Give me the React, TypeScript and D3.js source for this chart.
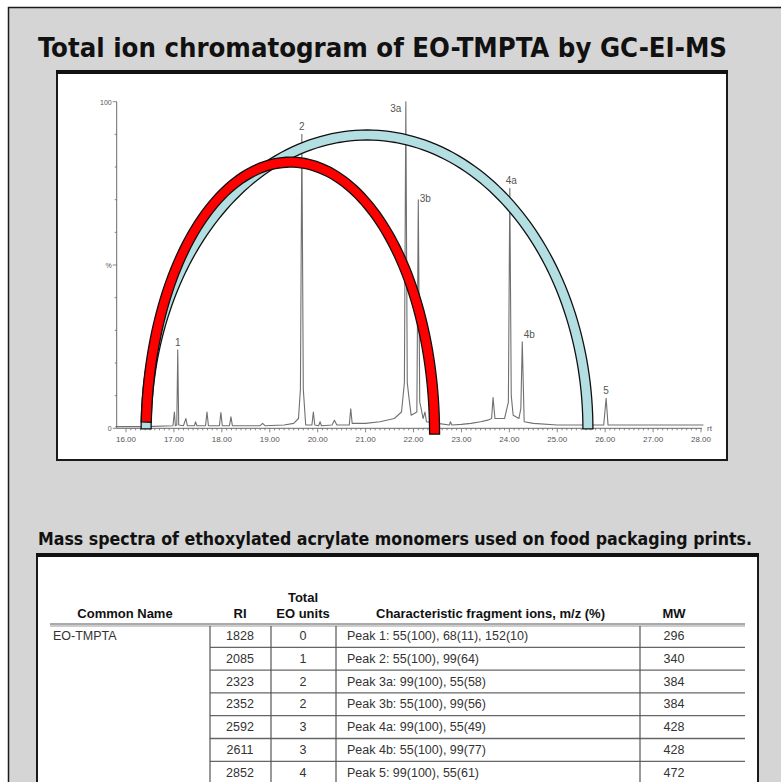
import { useEffect, useRef } from "react";
import * as d3 from "d3";

const W = 781;
const H = 782;

// chromatogram trace: retention time (min) / abundance (%)
const traceRt = [
  15.78, 16.4, 16.98, 17.01, 17.03, 17.06, 17.08, 17.1, 17.2, 17.25, 17.28, 17.43,
  17.45, 17.48, 17.66, 17.69, 17.72, 17.95, 17.98, 18.01, 18.16, 18.19, 18.22, 18.8,
  18.85, 18.9, 19.3, 19.5, 19.6, 19.64, 19.67, 19.7, 19.75, 19.88, 19.91, 19.94,
  20.02, 20.05, 20.08, 20.3, 20.35, 20.4, 20.66, 20.69, 20.72, 21.0, 21.3, 21.6,
  21.75, 21.81, 21.84, 21.87, 21.9, 21.95, 22.07, 22.1, 22.13, 22.16, 22.2, 22.24,
  22.27, 22.5, 22.75, 22.77, 22.8, 23.0, 23.2, 23.4, 23.55, 23.63, 23.66, 23.7,
  23.9, 23.98, 24.01, 24.04, 24.08, 24.2, 24.24, 24.27, 24.31, 24.5, 25.0, 25.97,
  26.02, 26.06, 26.5, 28.05,
];
const tracePct = [
  0.5, 0.5, 0.8, 5, 0.8, 1, 24, 1, 0.8, 3, 0.8, 0.8,
  2, 0.8, 0.8, 5, 0.8, 0.8, 4.8, 0.8, 0.8, 3.5, 0.8, 0.8,
  1.5, 0.8, 1, 1.5, 3, 12, 90, 12, 1, 1, 5, 1,
  0.8, 2, 0.8, 1, 2.5, 1, 1, 6, 1.5, 1.5, 2, 3,
  5, 14, 100, 14, 10, 4, 5, 70, 8, 6, 3, 5,
  2, 1.5, 1, 2, 1, 1.2, 1.5, 2, 2.5, 3, 9.4, 3,
  3, 8, 73.5, 10, 4, 3, 6, 26.5, 2, 1.5, 1, 1,
  9.2, 1, 1, 1,
];

// labelled peaks
const peakLabels = ["1", "2", "3a", "3b", "4a", "4b", "5"];
const peakRt = [17.08, 19.67, 21.84, 22.1, 24.04, 24.27, 26.02];
const peakPct = [24, 90, 100, 70, 73.5, 26.5, 9.2];

const xTickValues = [16, 17, 18, 19, 20, 21, 22, 23, 24, 25, 26, 27, 28];
const yTickValues = [0, 50, 100];
const yTickLabels = ["0", "%", "100"];

// coloured arcs laid over the trace
const arcColors = ["#b3dfe3", "#ff0000"];
const arcFromRt = [16.42, 16.42];
const arcToRt = [25.64, 22.44];
const arcTopPct = [89.8, 81.5];
const arcLeftFootPct = [-0.2, 1.9];
const arcRightFootPct = [-0.2, -1.8];

// table
const commonName = "EO-TMPTA";
const riValues = ["1828", "2085", "2323", "2352", "2592", "2611", "2852"];
const eoUnits = ["0", "1", "2", "2", "3", "3", "4"];
const fragmentIons = [
  "Peak 1: 55(100), 68(11), 152(10)",
  "Peak 2: 55(100), 99(64)",
  "Peak 3a: 99(100), 55(58)",
  "Peak 3b: 55(100), 99(56)",
  "Peak 4a: 99(100), 55(49)",
  "Peak 4b: 55(100), 99(77)",
  "Peak 5: 99(100), 55(61)",
];
const mwValues = ["296", "340", "384", "384", "428", "428", "472"];

const titleFont = "'Liberation Sans Narrow', 'DejaVu Sans Condensed', 'Open Sans', sans-serif";
const tableFont = "'Liberation Sans Narrow', 'Liberation Sans', Arial, sans-serif";
const axisFont = "'Liberation Sans', Arial, sans-serif";

export default function App() {
  const svgRef = useRef<SVGSVGElement | null>(null);

  useEffect(() => {
    if (!svgRef.current) return;
    const svg = d3.select(svgRef.current);
    svg.selectAll("*").remove();

    // grey page with dark frame
    svg.append("rect").attr("width", W).attr("height", H).attr("fill", "#fff");
    svg.append("rect")
      .attr("x", 8.5).attr("y", 7.5).attr("width", W + 20).attr("height", H + 20)
      .attr("fill", "#d5d5d5").attr("stroke", "#1a1a1a").attr("stroke-width", 1.5);

    svg.append("text")
      .attr("x", 38).attr("y", 57)
      .attr("font-family", titleFont).attr("font-weight", 700).attr("font-size", 27)
      .attr("textLength", 689).attr("lengthAdjust", "spacingAndGlyphs")
      .attr("fill", "#111")
      .text("Total ion chromatogram of EO-TMPTA by GC-EI-MS");

    // chart box
    svg.append("rect")
      .attr("x", 57).attr("y", 72).attr("width", 670).attr("height", 388)
      .attr("fill", "#fff").attr("stroke", "#1a1a1a").attr("stroke-width", 2);
    svg.append("rect")
      .attr("x", 56).attr("y", 70).attr("width", 672).attr("height", 4).attr("fill", "#111");

    const x = d3.scaleLinear().domain([16, 28]).range([126, 701]);
    const y = d3.scaleLinear().domain([0, 100]).range([428.3, 101.7]);
    const x0 = 116.7;
    const xEnd = 702;

    const g = svg.append("g");

    // x axis with minor ticks
    const axisGrey = "#6a6a6a";
    g.append("line")
      .attr("x1", x0).attr("x2", xEnd).attr("y1", y(0)).attr("y2", y(0))
      .attr("stroke", axisGrey).attr("stroke-width", 1);
    const minorX = d3.range(160, 281, 1).map((v) => v / 10);
    g.selectAll(".mx").data(minorX).join("line")
      .attr("x1", (d) => x(d)).attr("x2", (d) => x(d))
      .attr("y1", y(0)).attr("y2", (d) => y(0) + (Math.round(d * 10) % 10 === 0 ? 4 : 2))
      .attr("stroke", axisGrey).attr("stroke-width", 0.8);
    g.selectAll(".xl").data(xTickValues).join("text")
      .attr("x", (d) => x(d)).attr("y", y(0) + 14)
      .attr("text-anchor", "middle").attr("font-family", axisFont)
      .attr("font-size", 8).attr("fill", "#555")
      .text((d) => d.toFixed(2));
    g.append("text")
      .attr("x", xEnd + 5).attr("y", y(0) + 3)
      .attr("font-family", axisFont).attr("font-size", 8).attr("fill", "#555")
      .text("rt");

    // y axis
    g.append("line")
      .attr("x1", x0).attr("x2", x0).attr("y1", y(0)).attr("y2", y(100))
      .attr("stroke", axisGrey).attr("stroke-width", 1);
    const minorY = d3.range(0, 101, 10);
    g.selectAll(".my").data(minorY).join("line")
      .attr("x1", x0).attr("x2", (d) => x0 - (d % 50 === 0 ? 4 : 2))
      .attr("y1", (d) => y(d)).attr("y2", (d) => y(d))
      .attr("stroke", axisGrey).attr("stroke-width", 0.8);
    g.selectAll(".yl").data(yTickValues).join("text")
      .attr("x", x0 - 5).attr("y", (d) => y(d) + 3)
      .attr("text-anchor", "end").attr("font-family", axisFont)
      .attr("font-size", 7).attr("fill", "#555")
      .text((_, i) => yTickLabels[i]);

    // trace
    const pts: [number, number][] = traceRt.map((t, i) => [t, tracePct[i]]);
    const line = d3.line<[number, number]>().x((d) => x(d[0])).y((d) => y(d[1]));
    g.append("path")
      .attr("d", line(pts))
      .attr("fill", "none").attr("stroke", "#707070").attr("stroke-width", 1.1)
      .attr("stroke-linejoin", "round");

    g.selectAll(".pl").data(peakLabels).join("text")
      .attr("x", (_, i) => x(peakRt[i]) + (peakLabels[i] === "3a" ? -10 : peakLabels[i] === "3b" || peakLabels[i] === "4b" ? 7 : 0))
      .attr("y", (_, i) => y(peakPct[i]) - (peakLabels[i] === "3a" ? -10 : peakLabels[i] === "3b" ? -2 : 4))
      .attr("text-anchor", "middle").attr("font-family", axisFont)
      .attr("font-size", 10).attr("fill", "#555")
      .text((d) => d);

    // arcs as outlined bands
    const hw = 5;
    arcColors.forEach((col, i) => {
      const cx = (x(arcFromRt[i]) + x(arcToRt[i])) / 2;
      const a = (x(arcToRt[i]) - x(arcFromRt[i])) / 2;
      const cy = Math.max(y(arcLeftFootPct[i]), y(arcRightFootPct[i]));
      const b = cy - y(arcTopPct[i]);
      const th0 = Math.PI - Math.asin((cy - y(arcLeftFootPct[i])) / b);
      const th1 = Math.asin((cy - y(arcRightFootPct[i])) / b);
      const n = 120;
      const angles = d3.range(n + 1).map((k) => th0 + (th1 - th0) * (k / n));
      const outer = angles.map((t) => [cx + (a + hw) * Math.cos(t), cy - (b + hw) * Math.sin(t)] as [number, number]);
      const inner = angles.slice().reverse().map((t) => [cx + (a - hw) * Math.cos(t), cy - (b - hw) * Math.sin(t)] as [number, number]);
      g.append("path")
        .attr("d", "M" + outer.concat(inner).map((p) => p.join(",")).join("L") + "Z")
        .attr("fill", col).attr("stroke", "#111").attr("stroke-width", 1.3)
        .attr("stroke-linejoin", "miter");
    });

    // subtitle
    svg.append("text")
      .attr("x", 38).attr("y", 545)
      .attr("font-family", titleFont).attr("font-weight", 700).attr("font-size", 18)
      .attr("textLength", 714).attr("lengthAdjust", "spacingAndGlyphs")
      .attr("fill", "#111")
      .text("Mass spectra of ethoxylated acrylate monomers used on food packaging prints.");

    // table
    const tX0 = 37;
    const tX1 = 758;
    const tTop = 555;
    svg.append("rect")
      .attr("x", tX0).attr("y", tTop).attr("width", tX1 - tX0).attr("height", H)
      .attr("fill", "#fff").attr("stroke", "#1a1a1a").attr("stroke-width", 2);
    svg.append("rect")
      .attr("x", tX0 - 1).attr("y", tTop - 2).attr("width", tX1 - tX0 + 2).attr("height", 4).attr("fill", "#111");

    const colLines = [210, 271, 336, 640];
    const lineEnd = 745;
    const headY = 618;
    const rowY = d3.range(riValues.length).map((i) => 636 + i * 22.8);
    const rowTop = 626;

    const head = svg.append("g")
      .attr("font-family", tableFont).attr("font-weight", 700).attr("font-size", 13).attr("fill", "#111");
    head.append("text").attr("x", 125).attr("y", headY).attr("text-anchor", "middle").text("Common Name");
    head.append("text").attr("x", 240).attr("y", headY).attr("text-anchor", "middle").text("RI");
    head.append("text").attr("x", 303).attr("y", headY - 16).attr("text-anchor", "middle").text("Total");
    head.append("text").attr("x", 303).attr("y", headY).attr("text-anchor", "middle").text("EO units");
    head.append("text").attr("x", 376).attr("y", headY).text("Characteristic fragment ions, m/z (%)");
    head.append("text").attr("x", 674).attr("y", headY).attr("text-anchor", "middle").text("MW");

    // header rule (double)
    svg.append("line").attr("x1", 50).attr("x2", lineEnd).attr("y1", rowTop - 2).attr("y2", rowTop - 2)
      .attr("stroke", "#555").attr("stroke-width", 1);
    svg.append("line").attr("x1", 50).attr("x2", lineEnd).attr("y1", rowTop).attr("y2", rowTop)
      .attr("stroke", "#999").attr("stroke-width", 1);

    // row rules, skipping the merged first column
    svg.selectAll(".rr").data(rowY.slice(1)).join("line")
      .attr("x1", colLines[0]).attr("x2", lineEnd)
      .attr("y1", (d) => d - 11.5).attr("y2", (d) => d - 11.5)
      .attr("stroke", "#666").attr("stroke-width", 1.3);
    svg.selectAll(".cl").data(colLines).join("line")
      .attr("x1", (d) => d).attr("x2", (d) => d)
      .attr("y1", rowTop).attr("y2", H)
      .attr("stroke", "#555").attr("stroke-width", 1.2);

    const body = svg.append("g")
      .attr("font-family", tableFont).attr("font-size", 12.5).attr("fill", "#333");
    body.append("text").attr("x", 53).attr("y", rowY[0] + 4).text(commonName);
    body.selectAll(".ri").data(riValues).join("text")
      .attr("x", 240).attr("y", (_, i) => rowY[i] + 4).attr("text-anchor", "middle").text((d) => d);
    body.selectAll(".eo").data(eoUnits).join("text")
      .attr("x", 303).attr("y", (_, i) => rowY[i] + 4).attr("text-anchor", "middle").text((d) => d);
    body.selectAll(".fi").data(fragmentIons).join("text")
      .attr("x", 347).attr("y", (_, i) => rowY[i] + 4).text((d) => d);
    body.selectAll(".mw").data(mwValues).join("text")
      .attr("x", 674).attr("y", (_, i) => rowY[i] + 4).attr("text-anchor", "middle").text((d) => d);
  }, []);

  return (
    <svg
      ref={svgRef}
      width={W}
      height={H}
      style={{ position: "absolute", left: 0, top: 0, display: "block" }}
    />
  );
}
